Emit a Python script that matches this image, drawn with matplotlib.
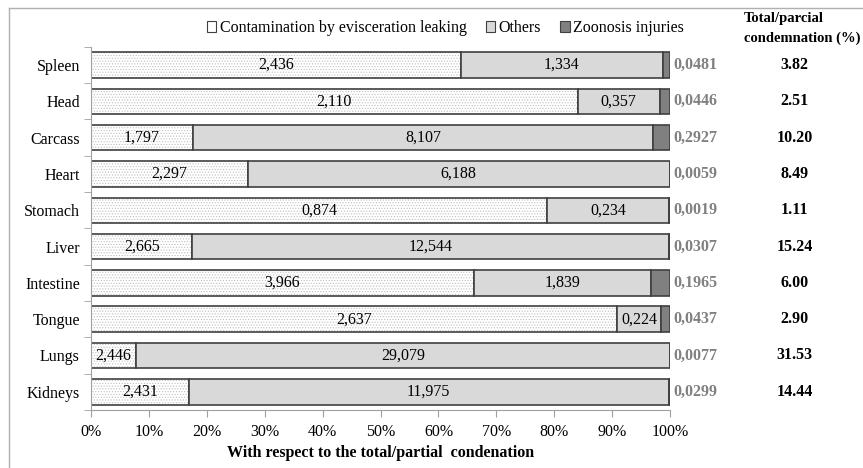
import matplotlib
matplotlib.use("Agg")
import matplotlib.pyplot as plt
from matplotlib.patches import Patch
from matplotlib.lines import Line2D
import numpy as np

# --- data ---
organs = ["Spleen", "Head", "Carcass", "Heart", "Stomach",
          "Liver", "Intestine", "Tongue", "Lungs", "Kidneys"]
contamination = [2.436, 2.110, 1.797, 2.297, 0.874, 2.665, 3.966, 2.637, 2.446, 2.431]
others = [1.334, 0.357, 8.107, 6.188, 0.234, 12.544, 1.839, 0.224, 29.079, 11.975]
zoonosis = [0.0481, 0.0446, 0.2927, 0.0059, 0.0019, 0.0307, 0.1965, 0.0437, 0.0077, 0.0299]
totals = ["3.82", "2.51", "10.20", "8.49", "1.11", "15.24", "6.00", "2.90", "31.53", "14.44"]
xticks = [0, 10, 20, 30, 40, 50, 60, 70, 80, 90, 100]

plt.rcParams["font.family"] = ["Liberation Serif", "DejaVu Serif"]
plt.rcParams["hatch.linewidth"] = 0.5

FS = 11.5

fig = plt.figure(figsize=(8.63, 4.68), dpi=100)
ax = fig.add_axes([0.1055, 0.124, 0.671, 0.776])

c = np.array(contamination)
o = np.array(others)
z = np.array(zoonosis)
s = c + o + z
pc = c / s * 100
po = o / s * 100
pz = z / s * 100

y = np.arange(len(organs))
h = 0.7
edge = "#404040"

# contamination: dotted fill, outline drawn separately
ax.barh(y, pc, height=h, color="white", hatch="......", edgecolor="#c0c0c0", linewidth=0)
ax.barh(y, pc, height=h, fill=False, edgecolor=edge, linewidth=1.2)
ax.barh(y, po, left=pc, height=h, color="#d9d9d9", edgecolor=edge, linewidth=1.2)
ax.barh(y, pz, left=pc + po, height=h, color="#808080", edgecolor=edge, linewidth=1.2)

def fmt(v, d):
    return f"{v:.{d}f}".replace(".", ",")

for i in range(len(organs)):
    ax.text(pc[i] / 2, y[i], fmt(c[i], 3), ha="center", va="center", fontsize=FS)
    ax.text(pc[i] + po[i] / 2, y[i], fmt(o[i], 3), ha="center", va="center", fontsize=FS)
    ax.text(100.6, y[i], fmt(z[i], 4), ha="left", va="center", fontsize=FS,
            color="#808080", fontweight="bold", clip_on=False)
    ax.text(121.5, y[i], totals[i], ha="center", va="center", fontsize=FS,
            fontweight="bold", clip_on=False)

ax.set_xlim(0, 100)
ax.set_ylim(len(organs) - 0.5, -0.5)
ax.set_yticks(y)
ax.set_yticklabels(organs, fontsize=FS)
ax.set_yticks(np.arange(len(organs) + 1) - 0.5, minor=True)
ax.tick_params(axis="y", which="major", length=0, pad=8)
ax.tick_params(axis="y", which="minor", length=5, color="#a0a0a0")
ax.set_xticks(xticks)
ax.set_xticklabels([f"{t}%" for t in xticks], fontsize=FS)
ax.tick_params(axis="x", length=5, color="#a0a0a0", pad=5)
ax.set_xlabel("With respect to the total/partial  condenation", fontsize=FS,
              fontweight="bold", labelpad=4)

for sp in ["top", "right"]:
    ax.spines[sp].set_visible(False)
for sp in ["left", "bottom"]:
    ax.spines[sp].set_color("#a0a0a0")

handles = [
    Patch(facecolor="white", edgecolor="#404040", linewidth=0.8),
    Patch(facecolor="#d9d9d9", edgecolor="#404040", linewidth=0.8),
    Patch(facecolor="#808080", edgecolor="#404040", linewidth=0.8),
]
fig.legend(handles, ["Contamination by evisceration leaking", "Others", "Zoonosis injuries"],
           loc="center", bbox_to_anchor=(0.516, 0.94), ncol=3, frameon=False,
           fontsize=FS, handlelength=0.6, handleheight=0.6, handletextpad=0.2,
           columnspacing=1.2)

fig.text(0.862, 0.975, "Total/parcial", ha="left", va="top", fontsize=10.5, fontweight="bold")
fig.text(0.862, 0.932, "condemnation (%)", ha="left", va="top", fontsize=10.5, fontweight="bold")

# outer frame
fig.add_artist(Line2D([9 / 863, 1], [1 - 8 / 468, 1 - 8 / 468], color="#b0b0b0", lw=1))
fig.add_artist(Line2D([9 / 863, 9 / 863], [0, 1 - 8 / 468], color="#b0b0b0", lw=1))

fig.savefig("out.png", dpi=100)
